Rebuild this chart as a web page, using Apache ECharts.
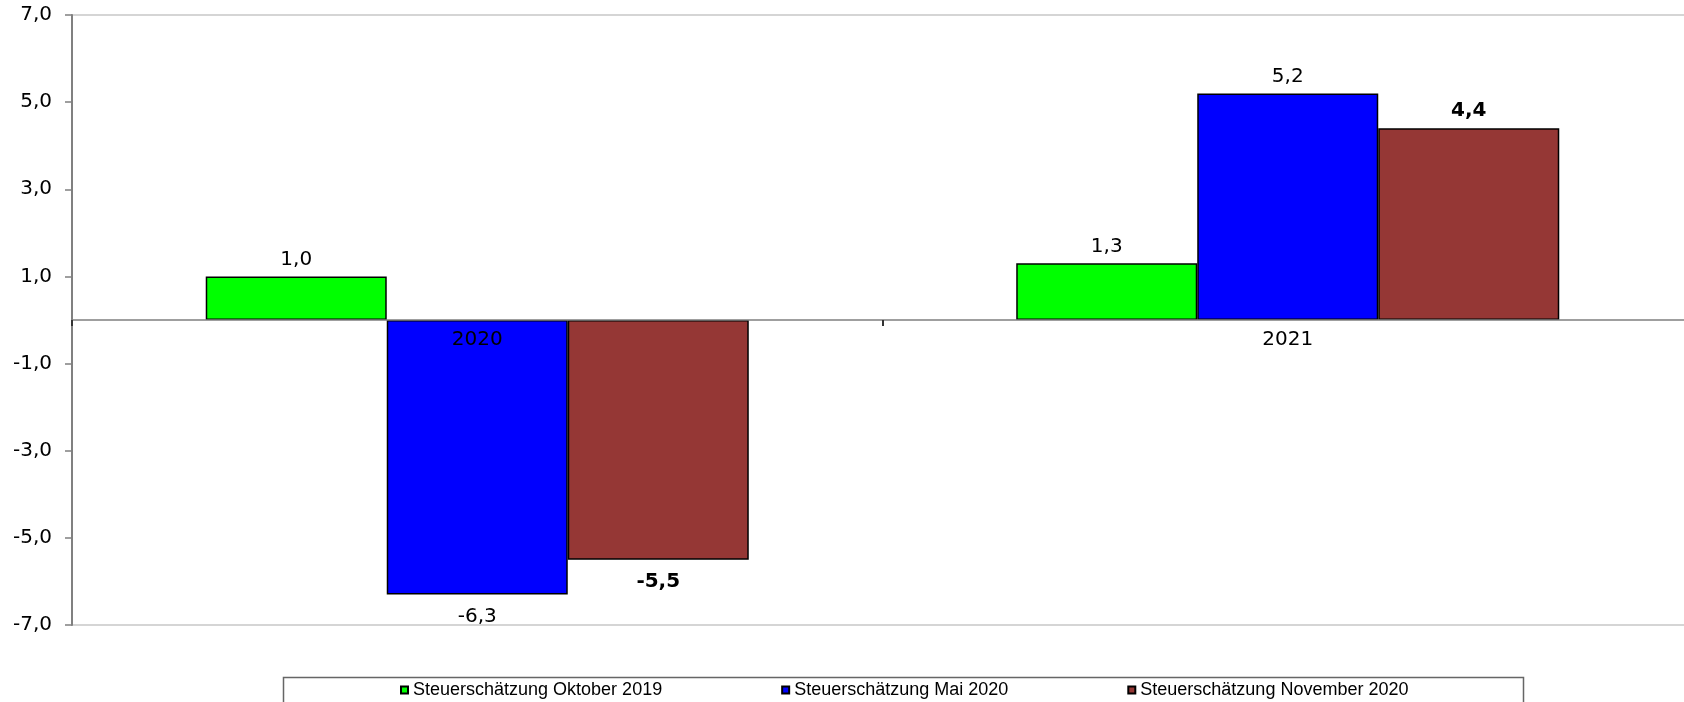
<!DOCTYPE html>
<html>
<head>
<meta charset="utf-8">
<title>Steuerschätzungen 2020/2021</title>
<script src="https://cdn.jsdelivr.net/npm/echarts@6/dist/echarts.min.js"></script>
<style>
  html, body { margin: 0; padding: 0; background: #ffffff; }
  #chart { width: 1684px; height: 702px; }
</style>
</head>
<body>
<div id="chart"></div>
<script>
// Jahre auf der Kategorienachse
const years = ['2020', '2021'];

// Veränderung in % je Steuerschätzung
const seriesNames = ['Steuerschätzung Oktober 2019', 'Steuerschätzung Mai 2020', 'Steuerschätzung November 2020'];
const oktober2019 = [1.0, 1.3];
const mai2020 = [-6.3, 5.2];
const november2020 = [-5.5, 4.4];

// Beschriftete Werte der y-Achse
const yTicks = [-7, -5, -3, -1, 1, 3, 5, 7];

const seriesValues = [oktober2019, mai2020, november2020];
const seriesColors = ['#00ff00', '#0000ff', '#953735'];
const boldLabels = [false, false, true];

const numFont = 'DejaVu Sans';
const numSize = 20;
const fmt = v => v.toFixed(1).replace('.', ',');

// Plotbereich: Höhe 610 px, Nulllinie in der Mitte (Skala -7 … 7)
const gridTop = 15;
const gridHeight = 610;

const chart = echarts.init(document.getElementById('chart'), null, { renderer: 'canvas' });

chart.setOption({
  animation: false,
  backgroundColor: '#ffffff',
  grid: {
    left: 72,
    top: gridTop,
    width: 1621,
    height: gridHeight,
    outerBoundsMode: 'none',
    containLabel: false,
    show: true,
    borderColor: '#c8c8c8',
    borderWidth: 1.5,
    backgroundColor: 'transparent'
  },
  legend: {
    left: 400,
    top: 681,
    padding: 0,
    itemWidth: 7,
    itemHeight: 7,
    itemGap: 119,
    icon: 'rect',
    textStyle: { fontFamily: 'Liberation Sans', fontSize: 18, color: '#000' },
    data: seriesNames
  },
  graphic: [{
    type: 'rect',
    left: 281,
    top: 675,
    shape: { width: 1240, height: 40 },
    style: { fill: 'none', stroke: '#666666', lineWidth: 1.5 },
    z: 10
  }],
  xAxis: {
    type: 'category',
    data: years,
    z: 3,
    position: 'bottom',
    // Achse samt Beschriftung auf die Nulllinie verschieben
    offset: -gridHeight / 2,
    axisLine: { onZero: false, lineStyle: { color: '#808080', width: 1.5 } },
    axisTick: { show: true, length: 6, lineStyle: { color: '#333', width: 2 } },
    axisLabel: {
      margin: 10,
      fontFamily: numFont,
      fontSize: numSize,
      color: '#000'
    },
    splitLine: { show: false }
  },
  yAxis: {
    type: 'value',
    min: -7,
    max: 7,
    axisLine: { show: true, lineStyle: { color: '#808080', width: 2 } },
    axisTick: {
      show: true,
      length: 7,
      customValues: yTicks,
      lineStyle: { color: '#808080', width: 1.5 }
    },
    axisLabel: {
      customValues: yTicks,
      margin: 20,
      fontFamily: numFont,
      fontSize: numSize,
      color: '#000',
      formatter: v => fmt(v)
    },
    splitLine: { show: false }
  },
  series: seriesValues.map((vals, i) => ({
    name: seriesNames[i],
    type: 'bar',
    barGap: '0%',
    barCategoryGap: '33%',
    itemStyle: { color: seriesColors[i], borderColor: '#000', borderWidth: 1.5 },
    label: {
      show: true,
      fontFamily: numFont,
      fontSize: numSize,
      fontWeight: boldLabels[i] ? 'bold' : 'normal',
      color: '#000',
      formatter: p => fmt(p.value)
    },
    data: vals.map(v => ({
      value: v,
      label: v < 0 ? { position: 'bottom', distance: 12 } : { position: 'top', distance: 7 }
    }))
  }))
});
</script>
</body>
</html>
